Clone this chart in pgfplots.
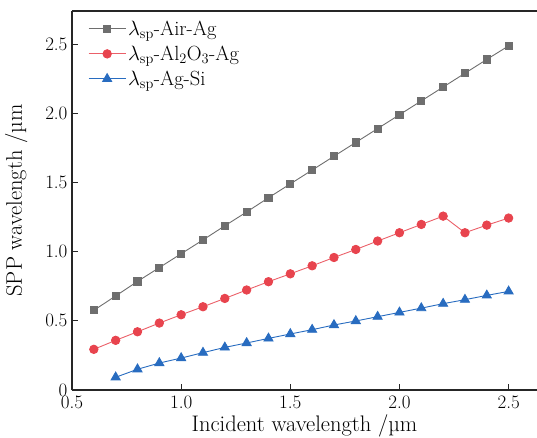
\documentclass[border=0pt]{standalone}
\usepackage{pgfplots}
\pgfplotsset{compat=1.18}
\definecolor{cgray}{RGB}{110,110,110}
\definecolor{cred}{RGB}{232,68,78}
\definecolor{cblue}{RGB}{40,108,192}
\begin{document}
\begin{tikzpicture}
\begin{axis}[
  name=ax,
  scale only axis,
  width=465pt, height=379pt,
  xmin=0.5, xmax=2.63,
  ymin=0, ymax=2.74,
  axis x line*=box,
  axis y line*=left,
  xtick pos=bottom, ytick pos=left,
  xtick={0.5,1.0,1.5,2.0,2.5},
  ytick={0,0.5,1.0,1.5,2.0,2.5},
  xticklabels={0.5,1.0,1.5,2.0,2.5},
  yticklabels={0,0.5,1.0,1.5,2.0,2.5},
  tick align=inside,
  major tick length=6pt,
  axis line style={line width=1.1pt, black!85},
  tick style={line width=1pt, black!85},
  ticklabel style={font=\fontsize{19}{21}\selectfont},
  xticklabel style={yshift=-2pt},
  yticklabel style={xshift=-1pt},
  label style={font=\fontsize{22.5}{24}\selectfont},
  xlabel={Incident wavelength /µm},
  ylabel={SPP wavelength /µm},
  xlabel style={yshift=1pt},
  ylabel style={yshift=11pt},
  legend cell align=left,
  legend style={draw=none, fill=none, at={(0.028,0.985)}, anchor=north west,
    font=\fontsize{20.5}{22}\selectfont, row sep=5pt},
  legend image code/.code={\draw[mark repeat=2,mark phase=2] plot coordinates {(0pt,0pt) (18.5pt,0pt) (37pt,0pt)};},
]
\addplot[cgray, line width=0.9pt, mark=square*, mark size=3.6pt, mark options={solid, fill=cgray, draw=cgray}] coordinates {
(0.6,0.576) (0.7,0.680) (0.8,0.785) (0.9,0.885) (1.0,0.985) (1.1,1.085) (1.2,1.187) (1.3,1.287) (1.4,1.390) (1.5,1.490)
(1.6,1.590) (1.7,1.690) (1.8,1.790) (1.9,1.890) (2.0,1.990) (2.1,2.090) (2.2,2.190) (2.3,2.290) (2.4,2.390) (2.5,2.488)};
\addlegendentry{$\lambda_{\mathrm{sp}}$-Air-Ag}
\addplot[cred!85, line width=0.9pt, mark=*, mark size=4.2pt, mark options={solid, fill=cred, draw=cred}] coordinates {
(0.6,0.294) (0.7,0.359) (0.8,0.421) (0.9,0.484) (1.0,0.544) (1.1,0.602) (1.2,0.662) (1.3,0.723) (1.4,0.783) (1.5,0.840)
(1.6,0.898) (1.7,0.958) (1.8,1.016) (1.9,1.077) (2.0,1.137) (2.1,1.197) (2.2,1.257) (2.3,1.137) (2.4,1.192) (2.5,1.243)};
\addlegendentry{$\lambda_{\mathrm{sp}}$-Al$_2$O$_3$-Ag}
\addplot[cblue, line width=0.9pt, mark=triangle*, mark size=5.2pt, mark options={solid, fill=cblue, draw=cblue}] coordinates {
(0.7,0.092) (0.8,0.150) (0.9,0.195) (1.0,0.231) (1.1,0.270) (1.2,0.308) (1.3,0.340) (1.4,0.373) (1.5,0.405)
(1.6,0.436) (1.7,0.470) (1.8,0.499) (1.9,0.530) (2.0,0.561) (2.1,0.592) (2.2,0.624) (2.3,0.653) (2.4,0.684) (2.5,0.713)};
\addlegendentry{$\lambda_{\mathrm{sp}}$-Ag-Si}
\end{axis}
\pgfresetboundingbox
\path ([shift={(-72pt,-47pt)}]ax.south west) rectangle ([shift={(0pt,11pt)}]ax.north east);
\end{tikzpicture}
\end{document}
